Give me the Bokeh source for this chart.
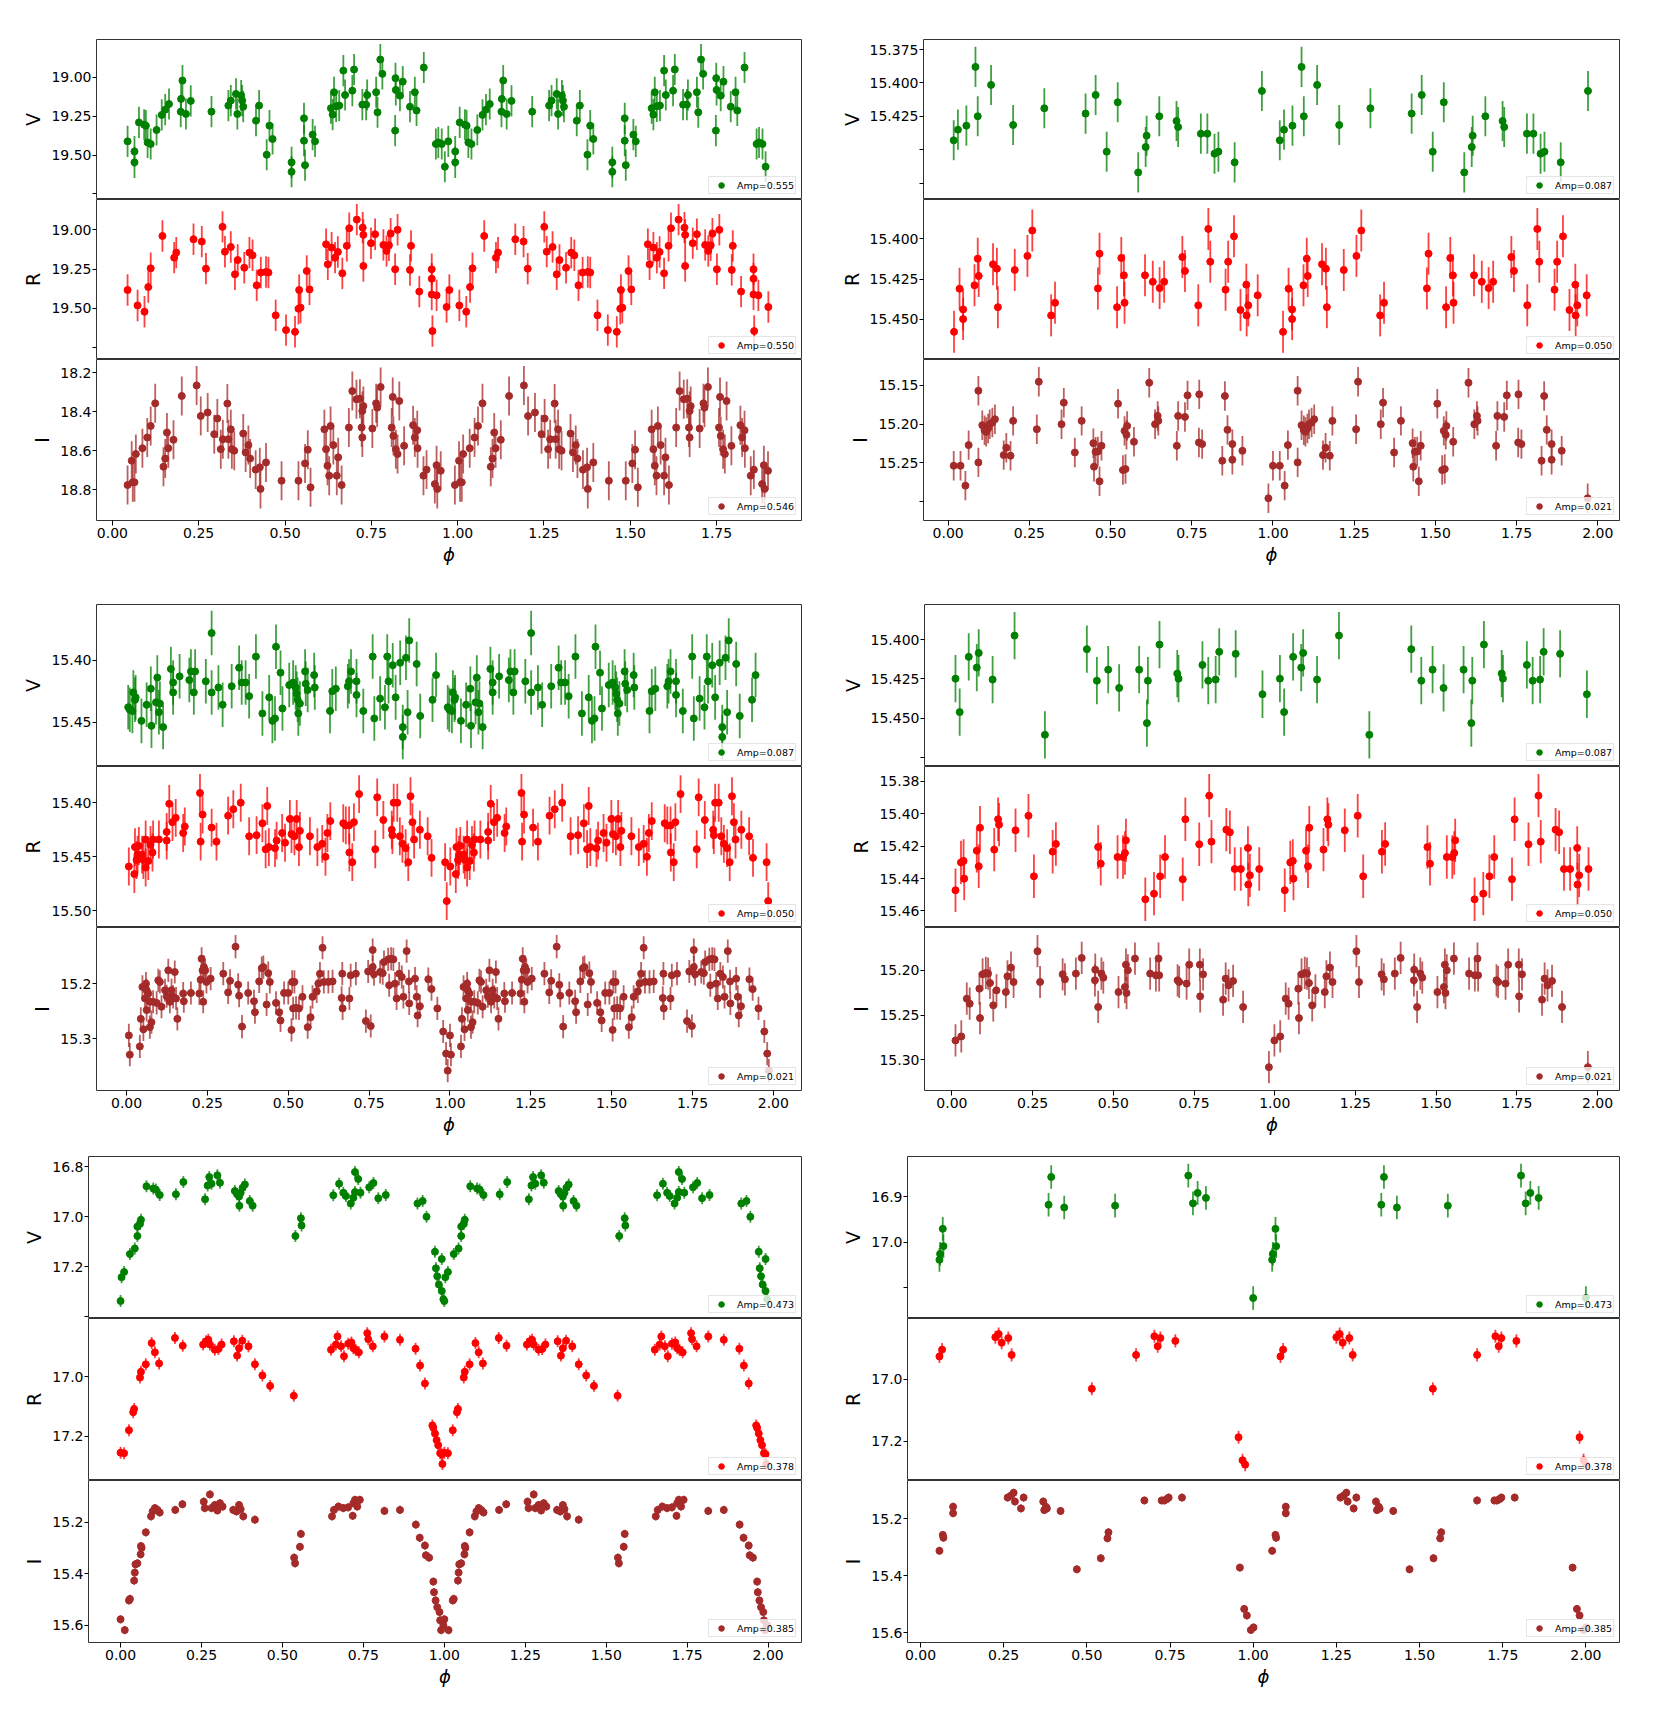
from bokeh.plotting import figure
from bokeh.models import (Range1d, FixedTicker, Legend, LegendItem, ColumnDataSource,
                          CDSView, IndexFilter)
from bokeh.layouts import column, row
from bokeh.embed import file_html
from bokeh.resources import INLINE

# ------------------------------------------------------------------ data
# (phase, magnitude) for one folded cycle; each curve is drawn twice
# (phase and phase + cycle offset), as in the original figure.

G1_V = [(0.044,19.412),(0.064,19.477),(0.064,19.547),(0.077,19.290),(0.092,19.305),(0.097,19.311),(0.102,19.419),(0.111,19.429),(0.128,19.339),(0.143,19.242),(0.153,19.208),(0.164,19.172),(0.199,19.139),(0.203,19.021),(0.198,19.221),(0.213,19.236),(0.227,19.152),(0.287,19.221),(0.336,19.182),(0.343,19.150),(0.358,19.107),(0.362,19.236),(0.373,19.117),(0.376,19.150),(0.379,19.189),(0.416,19.279),(0.425,19.182),(0.447,19.498),(0.455,19.311),(0.464,19.397),(0.519,19.547),(0.519,19.608),(0.555,19.264),(0.555,19.408),(0.558,19.565),(0.580,19.369),(0.587,19.412),(0.633,19.199),(0.638,19.240),(0.642,19.096),(0.648,19.187),(0.657,19.182),(0.669,18.957),(0.674,19.114),(0.695,19.086),(0.700,18.950),(0.724,19.176),(0.735,19.176),(0.738,19.114),(0.764,19.096),(0.768,19.225),(0.776,18.886),(0.782,18.978),(0.819,19.343),(0.820,19.006),(0.821,19.081),(0.833,19.118),(0.841,19.028),(0.862,19.189),(0.876,19.096),(0.881,19.214),(0.902,18.937),(0.937,19.429),(0.944,19.419),(0.954,19.429),(0.963,19.575)]
G1_R = [(0.044,19.383),(0.073,19.481),(0.093,19.521),(0.104,19.364),(0.111,19.245),(0.145,19.039),(0.179,19.177),(0.185,19.145),(0.235,19.060),(0.259,19.075),(0.271,19.247),(0.319,18.981),(0.326,19.139),(0.343,19.109),(0.355,19.283),(0.363,19.192),(0.382,19.241),(0.397,19.145),(0.406,19.162),(0.418,19.353),(0.430,19.272),(0.445,19.268),(0.452,19.272),(0.473,19.544),(0.503,19.638),(0.529,19.649),(0.539,19.502),(0.541,19.383),(0.545,19.495),(0.563,19.262),(0.571,19.379),(0.619,19.092),(0.624,19.219),(0.635,19.113),(0.645,19.177),(0.653,19.141),(0.666,19.277),(0.679,19.102),(0.686,18.990),(0.708,18.935),(0.725,18.986),(0.727,19.032),(0.727,19.230),(0.749,19.085),(0.761,19.028),(0.785,19.096),(0.794,19.134),(0.801,19.098),(0.806,19.024),(0.819,19.251),(0.826,19.000),(0.862,19.255),(0.865,19.102),(0.889,19.393),(0.925,19.251),(0.925,19.311),(0.925,19.411),(0.927,19.644),(0.939,19.417),(0.968,19.491)]
G1_I = [(0.044,18.776),(0.056,18.651),(0.059,18.762),(0.064,18.762),(0.068,18.617),(0.087,18.587),(0.101,18.532),(0.111,18.473),(0.124,18.357),(0.148,18.682),(0.153,18.640),(0.158,18.507),(0.162,18.587),(0.177,18.544),(0.201,18.319),(0.244,18.265),(0.256,18.422),(0.276,18.404),(0.295,18.515),(0.304,18.435),(0.314,18.592),(0.320,18.541),(0.333,18.358),(0.336,18.541),(0.343,18.490),(0.346,18.592),(0.353,18.600),(0.379,18.512),(0.386,18.609),(0.394,18.571),(0.399,18.640),(0.415,18.697),(0.427,18.685),(0.429,18.796),(0.445,18.660),(0.490,18.754),(0.539,18.754),(0.558,18.665),(0.566,18.595),(0.574,18.788),(0.614,18.490),(0.619,18.592),(0.623,18.677),(0.628,18.728),(0.632,18.473),(0.640,18.571),(0.650,18.728),(0.654,18.634),(0.664,18.776),(0.685,18.481),(0.695,18.294),(0.707,18.336),(0.717,18.333),(0.722,18.481),(0.724,18.396),(0.724,18.532),(0.727,18.371),(0.753,18.486),(0.764,18.357),(0.767,18.379),(0.777,18.273),(0.809,18.481),(0.812,18.324),(0.814,18.524),(0.821,18.592),(0.826,18.617),(0.831,18.345),(0.845,18.575),(0.871,18.469),(0.876,18.532),(0.883,18.495),(0.884,18.587),(0.901,18.728),(0.910,18.697),(0.934,18.771),(0.939,18.674),(0.941,18.796),(0.951,18.703)]

G2_V = [(0.017,15.443),(0.030,15.435),(0.056,15.432),(0.084,15.388),(0.091,15.425),(0.132,15.4015),(0.200,15.4315),(0.296,15.419),(0.423,15.423),(0.454,15.409),(0.488,15.4515),(0.522,15.4145),(0.585,15.467),(0.608,15.448),(0.611,15.4395),(0.650,15.425),(0.703,15.4285),(0.708,15.433),(0.778,15.438),(0.798,15.438),(0.820,15.453),(0.832,15.4515),(0.882,15.4595),(0.966,15.406)]
G2_R = [(0.018,15.4577),(0.035,15.431),(0.046,15.4438),(0.046,15.4498),(0.081,15.4289),(0.091,15.4124),(0.094,15.4231),(0.138,15.4159),(0.150,15.4186),(0.153,15.4424),(0.205,15.4194),(0.244,15.4107),(0.259,15.395),(0.317,15.4475),(0.329,15.4397),(0.461,15.4308),(0.466,15.4093),(0.520,15.4424),(0.533,15.412),(0.541,15.4227),(0.543,15.4397),(0.606,15.4227),(0.630,15.4267),(0.651,15.4306),(0.665,15.4267),(0.721,15.4114),(0.729,15.42),(0.770,15.4413),(0.801,15.394),(0.807,15.4143),(0.854,15.4316),(0.862,15.4143),(0.880,15.3986),(0.900,15.4442),(0.918,15.4285),(0.919,15.4475),(0.924,15.4413),(0.953,15.4351)]
G2_I = [(0.017,15.2537),(0.038,15.2537),(0.053,15.2794),(0.063,15.2271),(0.093,15.1569),(0.093,15.2494),(0.105,15.2014),(0.112,15.2078),(0.117,15.2100),(0.123,15.2057),(0.128,15.2001),(0.136,15.1980),(0.144,15.1937),(0.171,15.2400),(0.179,15.2306),(0.192,15.2408),(0.200,15.1958),(0.273,15.2066),(0.279,15.1453),(0.349,15.2001),(0.356,15.1723),(0.390,15.2366),(0.411,15.1958),(0.447,15.2246),(0.449,15.2550),(0.454,15.2357),(0.461,15.2353),(0.466,15.2738),(0.472,15.2280),(0.523,15.1736),(0.538,15.2593),(0.543,15.2087),(0.546,15.2580),(0.549,15.2138),(0.551,15.2023),(0.572,15.2228),(0.619,15.1466),(0.637,15.2001),(0.645,15.1894),(0.647,15.1958),(0.704,15.2280),(0.708,15.1894),(0.729,15.1907),(0.737,15.1629),(0.772,15.2237),(0.782,15.2258),(0.773,15.1616),(0.844,15.2473),(0.852,15.1637),(0.860,15.2074),(0.875,15.2258),(0.875,15.2460),(0.906,15.2344),(0.986,15.2957)]

G3_V = [(0.005,15.438),(0.010,15.440),(0.018,15.441),(0.021,15.426),(0.026,15.432),(0.028,15.430),(0.046,15.449),(0.062,15.436),(0.075,15.423),(0.077,15.453),(0.091,15.434),(0.095,15.414),(0.100,15.442),(0.103,15.435),(0.113,15.454),(0.137,15.407),(0.144,15.418),(0.144,15.426),(0.164,15.413),(0.194,15.416),(0.199,15.409),(0.208,15.426),(0.212,15.409),(0.245,15.417),(0.263,15.378),(0.263,15.426),(0.284,15.422),(0.297,15.436),(0.325,15.421),(0.348,15.406),(0.356,15.418),(0.368,15.418),(0.379,15.429),(0.400,15.397),(0.420,15.443),(0.441,15.430),(0.451,15.449),(0.459,15.447),(0.462,15.389),(0.476,15.410),(0.482,15.439),(0.503,15.420),(0.515,15.418),(0.523,15.422),(0.526,15.427),(0.529,15.432),(0.531,15.443),(0.536,15.435),(0.552,15.409),(0.554,15.419),(0.560,15.424),(0.580,15.412),(0.582,15.422),(0.629,15.441),(0.636,15.425),(0.647,15.423),(0.684,15.421),(0.688,15.417),(0.694,15.409),(0.711,15.417),(0.711,15.428),(0.732,15.441),(0.761,15.397),(0.766,15.447),(0.784,15.431),(0.799,15.438),(0.806,15.397),(0.810,15.417),(0.823,15.404),(0.832,15.430),(0.846,15.402),(0.854,15.454),(0.854,15.462),(0.864,15.398),(0.869,15.442),(0.874,15.384),(0.897,15.403),(0.908,15.445),(0.946,15.432),(0.957,15.412)]
G3_R = [(0.007,15.459),(0.024,15.466),(0.026,15.441),(0.031,15.453),(0.034,15.448),(0.038,15.440),(0.048,15.448),(0.052,15.453),(0.059,15.434),(0.059,15.460),(0.067,15.454),(0.074,15.439),(0.080,15.446),(0.082,15.434),(0.100,15.434),(0.124,15.427),(0.124,15.435),(0.132,15.401),(0.142,15.418),(0.152,15.414),(0.175,15.428),(0.180,15.422),(0.227,15.391),(0.229,15.436),(0.235,15.411),(0.263,15.423),(0.278,15.436),(0.314,15.412),(0.330,15.406),(0.353,15.400),(0.379,15.431),(0.402,15.430),(0.420,15.419),(0.430,15.443),(0.435,15.403),(0.440,15.441),(0.459,15.442),(0.464,15.435),(0.481,15.428),(0.490,15.437),(0.505,15.415),(0.510,15.429),(0.519,15.431),(0.526,15.415),(0.533,15.441),(0.536,15.426),(0.567,15.431),(0.590,15.441),(0.605,15.438),(0.615,15.450),(0.621,15.428),(0.630,15.417),(0.670,15.419),(0.678,15.421),(0.688,15.421),(0.689,15.446),(0.698,15.455),(0.703,15.418),(0.719,15.392),(0.769,15.443),(0.775,15.395),(0.794,15.416),(0.820,15.425),(0.822,15.430),(0.826,15.400),(0.837,15.400),(0.845,15.431),(0.853,15.438),(0.863,15.442),(0.871,15.455),(0.878,15.394),(0.884,15.418),(0.889,15.434),(0.907,15.425),(0.931,15.431),(0.943,15.451),(0.985,15.455),(0.990,15.491)]
G3_I = [(0.007,15.294),(0.010,15.329),(0.041,15.314),(0.044,15.264),(0.049,15.206),(0.052,15.283),(0.057,15.227),(0.060,15.200),(0.062,15.212),(0.062,15.248),(0.067,15.218),(0.072,15.279),(0.072,15.233),(0.077,15.270),(0.082,15.233),(0.093,15.235),(0.098,15.194),(0.103,15.197),(0.108,15.242),(0.119,15.212),(0.124,15.223),(0.129,15.176),(0.134,15.233),(0.139,15.212),(0.144,15.224),(0.149,15.179),(0.153,15.227),(0.157,15.264),(0.175,15.218),(0.177,15.232),(0.199,15.217),(0.225,15.218),(0.229,15.193),(0.232,15.155),(0.235,15.176),(0.237,15.233),(0.239,15.170),(0.243,15.176),(0.247,15.197),(0.260,15.191),(0.299,15.182),(0.314,15.216),(0.320,15.195),(0.337,15.133),(0.345,15.202),(0.348,15.222),(0.357,15.278),(0.376,15.217),(0.394,15.232),(0.397,15.252),(0.410,15.196),(0.418,15.172),(0.423,15.170),(0.433,15.238),(0.438,15.181),(0.443,15.197),(0.462,15.235),(0.472,15.252),(0.476,15.267),(0.487,15.217),(0.500,15.217),(0.510,15.284),(0.512,15.197),(0.515,15.245),(0.519,15.197),(0.524,15.244),(0.533,15.245),(0.544,15.224),(0.560,15.279),(0.569,15.261),(0.575,15.224),(0.588,15.214),(0.593,15.200),(0.598,15.182),(0.606,15.135),(0.610,15.197),(0.624,15.197),(0.637,15.196),(0.665,15.226),(0.667,15.182),(0.668,15.245),(0.689,15.227),(0.693,15.185),(0.709,15.182),(0.740,15.268),(0.747,15.178),(0.755,15.277),(0.761,15.139),(0.761,15.170),(0.765,15.183),(0.784,15.179),(0.792,15.181),(0.796,15.161),(0.809,15.156),(0.812,15.203),(0.818,15.155),(0.825,15.156),(0.830,15.200),(0.835,15.227),(0.843,15.182),(0.851,15.188),(0.856,15.224),(0.866,15.141),(0.873,15.196),(0.874,15.236),(0.892,15.191),(0.897,15.224),(0.900,15.258),(0.907,15.241),(0.933,15.192),(0.943,15.210),(0.961,15.245),(0.979,15.287),(0.988,15.327),(0.993,15.358)]

G4_V = [(0.011,15.4248),(0.024,15.446),(0.052,15.411),(0.077,15.4178),(0.083,15.4085),(0.126,15.4254),(0.194,15.3975),(0.288,15.4604),(0.418,15.4061),(0.449,15.4261),(0.484,15.4191),(0.518,15.4307),(0.580,15.4191),(0.604,15.453),(0.607,15.4261),(0.643,15.4032),(0.698,15.4216),(0.702,15.4248),(0.776,15.4161),(0.794,15.4261),(0.817,15.4254),(0.828,15.4078),(0.879,15.4091),(0.962,15.4347)]
G4_R = [(0.011,15.4472),(0.028,15.430),(0.036,15.4291),(0.038,15.44),(0.077,15.4228),(0.083,15.4324),(0.087,15.4086),(0.131,15.4221),(0.143,15.4034),(0.146,15.4067),(0.197,15.4102),(0.237,15.4012),(0.254,15.4386),(0.312,15.4234),(0.322,15.4186),(0.453,15.4205),(0.461,15.4308),(0.513,15.4267),(0.530,15.4267),(0.536,15.4242),(0.539,15.4164),(0.599,15.4528),(0.626,15.4493),(0.645,15.4386),(0.660,15.4267),(0.715,15.4404),(0.723,15.4034),(0.766,15.4188),(0.797,15.3888),(0.804,15.4172),(0.850,15.4098),(0.861,15.4114),(0.876,15.4341),(0.895,15.4341),(0.917,15.4211),(0.918,15.4437),(0.923,15.438),(0.952,15.4341)]
G4_I = [(0.011,15.2784),(0.029,15.2739),(0.046,15.2317),(0.055,15.2373),(0.085,15.2205),(0.087,15.2534),(0.095,15.2045),(0.105,15.203),(0.112,15.2037),(0.118,15.2142),(0.128,15.2392),(0.138,15.2224),(0.167,15.2243),(0.172,15.2067),(0.183,15.197),(0.191,15.2131),(0.265,15.1787),(0.273,15.2131),(0.343,15.2045),(0.350,15.2101),(0.384,15.2037),(0.402,15.1862),(0.443,15.2112),(0.444,15.1993),(0.453,15.241),(0.463,15.2037),(0.469,15.2082),(0.516,15.2243),(0.536,15.2187),(0.539,15.1937),(0.541,15.2254),(0.545,15.20),(0.567,15.1869),(0.614,15.2037),(0.632,15.2056),(0.640,15.1869),(0.642,15.2056),(0.699,15.2112),(0.704,15.2131),(0.727,15.2149),(0.735,15.1937),(0.768,15.1937),(0.769,15.2291),(0.778,15.2045),(0.840,15.2328),(0.848,15.2093),(0.857,15.2168),(0.871,15.2119),(0.902,15.241),(0.982,15.3082)]

G5_V = [(0.000,17.338),(0.003,17.243),(0.011,17.222),(0.029,17.150),(0.044,17.128),(0.052,17.078),(0.052,17.040),(0.060,17.030),(0.063,17.013),(0.080,16.879),(0.101,16.888),(0.109,16.892),(0.121,16.914),(0.171,16.911),(0.194,16.862),(0.261,16.931),(0.269,16.876),(0.274,16.842),(0.281,16.869),(0.299,16.835),(0.307,16.865),(0.353,16.898),(0.360,16.911),(0.366,16.920),(0.367,16.957),(0.371,16.905),(0.377,16.885),(0.384,16.872),(0.399,16.938),(0.408,16.957),(0.540,17.078),(0.557,17.007),(0.559,17.036),(0.657,16.915),(0.675,16.869),(0.688,16.905),(0.696,16.918),(0.711,16.948),(0.719,16.925),(0.724,16.822),(0.724,16.902),(0.734,16.850),(0.741,16.905),(0.768,16.883),(0.781,16.866),(0.796,16.927),(0.819,16.914),(0.917,16.948),(0.933,16.938),(0.945,17.001),(0.971,17.141),(0.974,17.207),(0.978,17.239),(0.983,17.272),(0.992,17.170),(0.992,17.298),(0.997,17.331)]
G5_R = [(0.000,17.254),(0.011,17.256),(0.026,17.179),(0.039,17.119),(0.042,17.108),(0.060,17.003),(0.063,16.984),(0.078,16.959),(0.096,16.888),(0.106,16.919),(0.119,16.956),(0.168,16.871),(0.192,16.897),(0.255,16.893),(0.264,16.882),(0.271,16.877),(0.276,16.893),(0.291,16.910),(0.302,16.908),(0.312,16.893),(0.350,16.882),(0.360,16.930),(0.366,16.905),(0.376,16.880),(0.395,16.899),(0.415,16.959),(0.438,16.996),(0.462,17.031),(0.535,17.064),(0.650,16.910),(0.665,16.893),(0.670,16.866),(0.681,16.899),(0.690,16.932),(0.703,16.890),(0.713,16.886),(0.719,16.905),(0.726,16.910),(0.736,16.919),(0.762,16.855),(0.765,16.875),(0.779,16.899),(0.815,16.866),(0.863,16.877),(0.911,16.907),(0.925,16.963),(0.940,17.023),(0.963,17.163),(0.966,17.171),(0.971,17.190),(0.976,17.212),(0.981,17.229),(0.987,17.256),(0.992,17.259),(0.994,17.292)]
G5_I = [(0.000,15.577),(0.013,15.619),(0.026,15.504),(0.029,15.498),(0.042,15.427),(0.044,15.396),(0.046,15.364),(0.052,15.360),(0.062,15.325),(0.065,15.300),(0.063,15.293),(0.078,15.240),(0.094,15.178),(0.099,15.159),(0.106,15.146),(0.114,15.153),(0.121,15.163),(0.169,15.153),(0.191,15.131),(0.257,15.121),(0.260,15.146),(0.276,15.093),(0.281,15.146),(0.291,15.134),(0.299,15.155),(0.307,15.127),(0.315,15.140),(0.348,15.153),(0.358,15.159),(0.366,15.134),(0.371,15.150),(0.379,15.178),(0.415,15.191),(0.536,15.338),(0.539,15.360),(0.554,15.296),(0.557,15.246),(0.653,15.178),(0.659,15.153),(0.673,15.140),(0.688,15.146),(0.703,15.143),(0.717,15.176),(0.719,15.127),(0.724,15.114),(0.731,15.140),(0.739,15.114),(0.815,15.157),(0.863,15.153),(0.912,15.210),(0.924,15.261),(0.940,15.291),(0.943,15.329),(0.953,15.338),(0.966,15.431),(0.968,15.472),(0.973,15.504),(0.978,15.530),(0.985,15.549),(0.987,15.581),(0.990,15.619),(0.997,15.600)]

G6_V = [(0.057,17.039),(0.059,17.026),(0.067,16.971),(0.069,17.009),(0.385,16.918),(0.393,16.857),(0.432,16.924),(0.585,16.920),(0.805,16.854),(0.819,16.915),(0.833,16.892),(0.858,16.903),(1.000,17.123)]
G6_R = [(0.057,16.927),(0.065,16.905),(0.225,16.865),(0.235,16.855),(0.244,16.883),(0.264,16.868),(0.274,16.922),(0.515,17.031),(0.648,16.922),(0.703,16.862),(0.713,16.894),(0.721,16.868),(0.766,16.877),(0.956,17.187),(0.968,17.261),(0.976,17.275)]
G6_I = [(0.057,15.313),(0.067,15.257),(0.069,15.267),(0.098,15.158),(0.098,15.181),(0.262,15.126),(0.272,15.119),(0.280,15.109),(0.284,15.140),(0.302,15.164),(0.310,15.126),(0.369,15.140),(0.372,15.170),(0.377,15.158),(0.380,15.164),(0.421,15.173),(0.470,15.378),(0.542,15.339),(0.562,15.269),(0.565,15.248),(0.673,15.136),(0.725,15.136),(0.733,15.136),(0.741,15.131),(0.746,15.126),(0.786,15.126),(0.960,15.372),(0.973,15.517),(0.981,15.540),(0.993,15.591),(1.001,15.582)]

# typical magnitude errors (V, R, I)
G1_ERR = [0.10, 0.10, 0.10]
G2_ERR = [0.015, 0.013, 0.019]
G3_ERR = [0.018, 0.0175, 0.021]
G4_ERR = [0.015, 0.0134, 0.018]
G5_ERR = [0.024, 0.020, 0.016]
G6_ERR = [0.026, 0.021, 0.014]

# phase offset of the repeated cycle (V, R, I)
G1_CYCLE = [0.929, 0.932, 0.948]
G2_CYCLE = [1.004, 1.013, 0.983]
G3_CYCLE = [0.988, 0.994, 0.993]
G4_CYCLE = [1.005, 1.020, 0.988]
G5_CYCLE = [1.000, 1.000, 1.000]
G6_CYCLE = [1.000, 1.025, 1.000]

# amplitudes shown in the legends (V, R, I)
G1_AMP = [0.555, 0.550, 0.546]
G2_AMP = [0.087, 0.050, 0.021]
G3_AMP = [0.087, 0.050, 0.021]
G4_AMP = [0.087, 0.050, 0.021]
G5_AMP = [0.473, 0.378, 0.385]
G6_AMP = [0.473, 0.378, 0.385]

# axis extents: x (phase) and y (bright end, faint end) for V, R, I
G1_XR = (-0.046, 1.996)
G2_XR = (-0.076, 2.067)
G3_XR = (-0.093, 2.087)
G4_XR = (-0.085, 2.068)
G5_XR = (-0.099, 2.103)
G6_XR = (-0.039, 2.101)
G1_YR = [(18.757, 19.786), (18.807, 19.825), (18.132, 18.958)]
G2_YR = [(15.3675, 15.4873), (15.3758, 15.4748), (15.1166, 15.3244)]
G3_YR = [(15.3549, 15.4859), (15.3665, 15.5154), (15.0982, 15.394)]
G4_YR = [(15.3778, 15.4805), (15.3708, 15.4702), (15.1522, 15.3343)]
G5_YR = [(16.760, 17.408), (16.806, 17.347), (15.039, 15.667)]
G6_YR = [(16.812, 17.168), (16.805, 17.326), (15.066, 15.635)]

# y ticks and their labels (V, R, I)
G1_YT = [[19.0, 19.25, 19.5, 19.75], [19.0, 19.25, 19.5, 19.75], [18.2, 18.4, 18.6, 18.8]]
G1_YL = [["19.00", "19.25", "19.50", " "], ["19.00", "19.25", "19.50", " "], ["18.2", "18.4", "18.6", "18.8"]]
G2_YT = [[15.375, 15.4, 15.425, 15.45, 15.475], [15.4, 15.425, 15.45, 15.475], [15.15, 15.2, 15.25, 15.3]]
G2_YL = [["15.375", "15.400", "15.425", " ", " "], ["15.400", "15.425", "15.450", " "], ["15.15", "15.20", "15.25", " "]]
G3_YT = [[15.4, 15.45], [15.4, 15.45, 15.5], [15.2, 15.3]]
G3_YL = [["15.40", "15.45"], ["15.40", "15.45", "15.50"], ["15.2", "15.3"]]
G4_YT = [[15.4, 15.425, 15.45, 15.475], [15.38, 15.4, 15.42, 15.44, 15.46], [15.2, 15.25, 15.3]]
G4_YL = [["15.400", "15.425", "15.450", " "], ["15.38", "15.40", "15.42", "15.44", "15.46"], ["15.20", "15.25", "15.30"]]
G5_YT = [[16.8, 17.0, 17.2, 17.4], [17.0, 17.2], [15.2, 15.4, 15.6]]
G5_YL = [["16.8", "17.0", "17.2", " "], ["17.0", "17.2"], ["15.2", "15.4", "15.6"]]
G6_YT = [[16.9, 17.0, 17.1], [17.0, 17.2], [15.2, 15.4, 15.6]]
G6_YL = [["16.9", "17.0", " "], ["17.0", "17.2"], ["15.2", "15.4", "15.6"]]

X_TICKS_SHORT = [0.0, 0.25, 0.5, 0.75, 1.0, 1.25, 1.5, 1.75]
X_LABELS_SHORT = ["0.00", "0.25", "0.50", "0.75", "1.00", "1.25", "1.50", "1.75"]
X_TICKS = [0.0, 0.25, 0.5, 0.75, 1.0, 1.25, 1.5, 1.75, 2.0]
X_LABELS = ["0.00", "0.25", "0.50", "0.75", "1.00", "1.25", "1.50", "1.75", "2.00"]

BANDS = ["V", "R", "I"]
COLORS = ["green", "red", "brown"]

# ------------------------------------------------------------------ layout / style
FONT = "DejaVu Sans"
# per group-row: frame heights of V, R, I; border above V; border below I
ROWS = [((160, 160, 161), 39, 84), ((162, 161, 163), 0, 66), ((162, 162, 162), 0, 56)]
# per group: (left border, frame width, right border)
COLS = {1: (96, 705, 27), 3: (96, 705, 27), 5: (88, 713, 27),
        2: (95, 696, 33), 4: (96, 695, 33), 6: (79, 712, 33)}

GROUPS = {
    1: dict(data=[G1_V, G1_R, G1_I], err=G1_ERR, cyc=G1_CYCLE, amp=G1_AMP, xr=G1_XR, yr=G1_YR, yt=G1_YT, yl=G1_YL, xt=X_TICKS_SHORT, xl=X_LABELS_SHORT),
    2: dict(data=[G2_V, G2_R, G2_I], err=G2_ERR, cyc=G2_CYCLE, amp=G2_AMP, xr=G2_XR, yr=G2_YR, yt=G2_YT, yl=G2_YL, xt=X_TICKS, xl=X_LABELS),
    3: dict(data=[G3_V, G3_R, G3_I], err=G3_ERR, cyc=G3_CYCLE, amp=G3_AMP, xr=G3_XR, yr=G3_YR, yt=G3_YT, yl=G3_YL, xt=X_TICKS, xl=X_LABELS),
    4: dict(data=[G4_V, G4_R, G4_I], err=G4_ERR, cyc=G4_CYCLE, amp=G4_AMP, xr=G4_XR, yr=G4_YR, yt=G4_YT, yl=G4_YL, xt=X_TICKS, xl=X_LABELS),
    5: dict(data=[G5_V, G5_R, G5_I], err=G5_ERR, cyc=G5_CYCLE, amp=G5_AMP, xr=G5_XR, yr=G5_YR, yt=G5_YT, yl=G5_YL, xt=X_TICKS, xl=X_LABELS),
    6: dict(data=[G6_V, G6_R, G6_I], err=G6_ERR, cyc=G6_CYCLE, amp=G6_AMP, xr=G6_XR, yr=G6_YR, yt=G6_YT, yl=G6_YL, xt=X_TICKS, xl=X_LABELS),
}


def style_axis(ax, ticks, labels):
    ax.ticker = FixedTicker(ticks=ticks)
    ax.major_label_overrides = {t: l for t, l in zip(ticks, labels)}
    ax.major_label_text_font = FONT
    ax.major_label_text_font_size = "14px"
    ax.major_label_text_color = "black"
    ax.major_tick_out = 4
    ax.major_tick_in = 0
    ax.minor_tick_out = 0
    ax.minor_tick_in = 0
    ax.major_tick_line_color = "black"
    ax.axis_line_color = None
    ax.axis_label_text_font = FONT
    ax.axis_label_text_color = "black"


def make_panel(gid, bi, row_idx):
    g = GROUPS[gid]
    frames, top_b, bot_b = ROWS[row_idx]
    bl, fw, br = COLS[gid]
    bt = top_b if bi == 0 else 0
    bb = bot_b if bi == 2 else 0
    show_x = bi == 2
    pts = g["data"][bi]
    err = g["err"][bi]
    cyc = g["cyc"][bi]
    ph = [p for p, m in pts]
    mg = [m for p, m in pts]
    xs = ph + [p + cyc for p in ph]
    ys = mg + mg
    src = ColumnDataSource(dict(x=xs, y=ys, lo=[y - err for y in ys], hi=[y + err for y in ys]))
    y_bright, y_faint = g["yr"][bi]
    p = figure(width=bl + fw + br, height=bt + frames[bi] + bb,
               x_range=Range1d(g["xr"][0], g["xr"][1]),
               y_range=Range1d(y_faint, y_bright),
               output_backend="svg", toolbar_location=None, tools="",
               x_axis_location="below" if show_x else None,
               min_border_left=bl, min_border_right=br,
               min_border_top=bt, min_border_bottom=bb)
    p.title.visible = False
    p.xgrid.grid_line_color = None
    p.ygrid.grid_line_color = None
    p.outline_line_color = "#333333"
    p.outline_line_width = 1
    p.background_fill_color = "white"
    p.border_fill_color = "white"
    color = COLORS[bi]
    p.segment(x0="x", y0="lo", x1="x", y1="hi", source=src,
              line_color=color, line_alpha=0.75, line_width=1.8)
    r = p.scatter(x="x", y="y", source=src, size=7, marker="circle",
                  fill_color=color, line_color=color)
    # legend swatch for the error bar: a thin upright ellipse, never drawn in the plot
    bar_key = p.ellipse(x="x", y="y", source=src, width=1.8, height=14,
                        width_units="screen", height_units="screen",
                        fill_color=color, fill_alpha=0.75, line_color=None,
                        view=CDSView(filter=IndexFilter(indices=[])))

    ya = p.yaxis[0]
    style_axis(ya, g["yt"][bi], g["yl"][bi])
    ya.major_label_standoff = 1
    ya.axis_label = BANDS[bi]
    ya.axis_label_text_font_size = "19px"
    ya.axis_label_text_font_style = "normal"
    ya.axis_label_standoff = 4

    if show_x:
        xa = p.xaxis[0]
        style_axis(xa, g["xt"], g["xl"])
        xa.major_tick_out = 5
        xa.major_label_standoff = 2
        xa.axis_label = "\u03d5"
        xa.axis_label_text_font_size = "18px"
        xa.axis_label_text_font_style = "italic"
        xa.axis_label_standoff = 3

    legend = Legend(items=[LegendItem(label="Amp=%.3f" % g["amp"][bi], renderers=[bar_key, r])],
                    location="bottom_right", margin=5, padding=1, spacing=0,
                    glyph_width=22, glyph_height=14, label_height=12,
                    label_standoff=5, label_text_font=FONT,
                    label_text_font_size="9.5px", label_text_color="black",
                    border_line_color="#cccccc", border_line_width=1,
                    background_fill_color="white", background_fill_alpha=0.8)
    p.add_layout(legend)
    return p


def group_column(gid, row_idx):
    return column(*[make_panel(gid, bi, row_idx) for bi in range(3)])


left = column(*[group_column(g, i) for i, g in enumerate([1, 3, 5])])
right = column(*[group_column(g, i) for i, g in enumerate([2, 4, 6])])
layout = row(left, right)

with open("out.html", "w") as f:
    f.write(file_html(layout, INLINE))
